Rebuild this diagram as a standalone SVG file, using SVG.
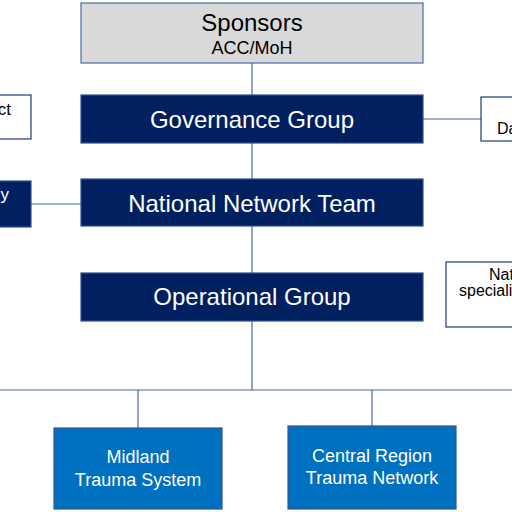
<svg xmlns="http://www.w3.org/2000/svg" width="512" height="512" viewBox="0 0 512 512">
<style>
.ln{stroke:#4a66a0;stroke-width:1.2;fill:none}
.navy{fill:#002060;stroke:#2f4f8f;stroke-width:1.2}
.blue{fill:#0070c0;stroke:#2f5597;stroke-width:1.2}
.white{fill:#ffffff;stroke:#1f3a78;stroke-width:1.2}
.grey{fill:#d9d9d9;stroke:#4a6aa8;stroke-width:1.2}
text{font-family:"Liberation Sans",Arial,sans-serif}
.wt{fill:#ffffff}
.bt{fill:#000000}
</style>
<g id="connectors">
<line class="ln" x1="252" y1="63" x2="252" y2="390"/>
<line class="ln" x1="0" y1="390" x2="512" y2="390"/>
<line class="ln" x1="138" y1="390" x2="138" y2="428"/>
<line class="ln" x1="372" y1="390" x2="372" y2="426"/>
<line class="ln" x1="31" y1="204" x2="81" y2="204"/>
<line class="ln" x1="423" y1="119" x2="481" y2="119"/>
</g>
<g id="sponsors">
<rect class="grey" x="81" y="3" width="342" height="60"/>
<text class="bt" x="252" y="31" font-size="24" text-anchor="middle">Sponsors</text>
<text class="bt" x="252" y="54" font-size="18" text-anchor="middle">ACC/MoH</text>
</g>
<g id="governance">
<rect class="navy" x="81" y="95" width="342" height="48"/>
<text class="wt" x="252" y="128" font-size="24" text-anchor="middle">Governance Group</text>
</g>
<g id="nnt">
<rect class="navy" x="81" y="179" width="342" height="47"/>
<text class="wt" x="252" y="212" font-size="24" text-anchor="middle">National Network Team</text>
</g>
<g id="operational">
<rect class="navy" x="81" y="273" width="342" height="48"/>
<text class="wt" x="252" y="305" font-size="24" text-anchor="middle">Operational Group</text>
</g>
<g id="left-top">
<rect class="white" x="-60" y="95" width="91" height="44"/>
<text class="bt" x="11" y="115" font-size="17" text-anchor="end">ct</text>
</g>
<g id="left-mid">
<rect class="navy" x="-60" y="181" width="91" height="46"/>
<text class="wt" x="9" y="200" font-size="17" text-anchor="end">y</text>
</g>
<g id="right-top">
<rect class="white" x="481" y="97" width="80" height="44"/>
<text class="bt" x="497" y="134" font-size="16">Da</text>
</g>
<g id="right-mid">
<rect class="white" x="446" y="262" width="100" height="65"/>
<text class="bt" x="489" y="280" font-size="16">Nat</text>
<text class="bt" x="459" y="296" font-size="16">speciali</text>
</g>
<g id="midland">
<rect class="blue" x="54" y="428" width="168" height="81"/>
<text class="wt" x="138" y="463" font-size="18" text-anchor="middle">Midland</text>
<text class="wt" x="138" y="486" font-size="18" text-anchor="middle">Trauma System</text>
</g>
<g id="central">
<rect class="blue" x="288" y="426" width="168" height="83"/>
<text class="wt" x="372" y="462" font-size="18" text-anchor="middle">Central Region</text>
<text class="wt" x="372" y="484" font-size="18" text-anchor="middle">Trauma Network</text>
</g>
</svg>
